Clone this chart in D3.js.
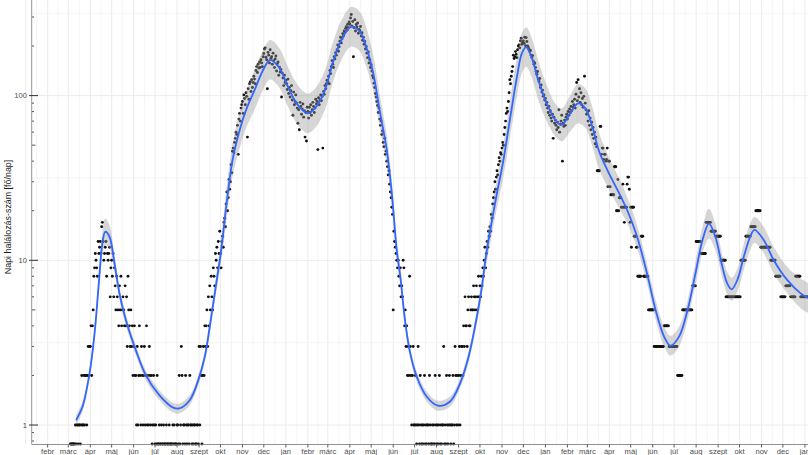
<!DOCTYPE html>
<html>
<head>
<meta charset="utf-8">
<script src="https://cdn.jsdelivr.net/npm/d3@7"></script>
<style>
  html, body { margin: 0; padding: 0; background: #fff; }
  svg { display: block; font-family: "Liberation Sans", Arial, sans-serif; }
</style>
</head>
<body>
<svg id="chart" width="808" height="455"></svg>
<script>
// napi halálozások, havonta egy sor (2020 márc. 4-től)
const deaths2020 = [
  [0,0,0,0,0,0,0,1,0,1,1,0,1,1,0,1,2,1,1,2,1,2,2,1,2,3,2,3],
  [3,4,2,4,5,8,9,11,10,9,8,13,11,12,13,11,16,17,13,10,11,12,13,8,11,10,11,12,6,9],
  [10,8,11,6,9,7,5,8,6,5,4,7,5,8,4,5,6,5,4,7,4,6,3,8,5,4,3,5,3,4,2],
  [3,4,2,2,1,3,1,2,4,2,1,3,2,1,2,3,1,2,4,1,2,1,3,2,1,2,0,1,2,1],
  [0,1,0,2,0,0,1,0,0,1,0,0,1,0,0,0,1,0,0,0,1,0,0,0,0,1,0,1,0,0,0],
  [1,1,0,2,0,1,3,2,0,1,1,0,2,1,0,1,1,0,2,1,1,0,1,0,1,1,0,0,1,1,0],
  [3,1,3,2,0,2,3,2,4,3,4,5,3,6,4,7,5,8,6,5,9,8,7,11,10,12,9,13,11,15],
  [11,9,13,14,12,17,18,16,22,26,20,24,31,27,30,38,34,46,48,45,52,55,60,58,66,44,72,78,70,84,88],
  [92,78,101,96,88,104,99,56,110,95,118,121,106,125,112,120,131,126,118,142,150,138,155,147,160,148,165,158,150,172],
  [180,192,195,171,165,110,183,176,158,190,168,172,155,181,163,148,167,174,141,156,160,133,149,139,144,98,137,128,115,133,120]
];
const deaths2021 = [
  [124,118,109,126,103,112,98,107,115,94,76,105,88,92,101,90,84,68,82,62,91,86,77,83,89,74,81,56,79,53,85],
  [80,73,85,79,88,76,82,91,86,79,84,95,89,92,47,97,88,94,101,93,99,48,106,102,115,110,118,124],
  [122,131,118,142,136,150,163,155,148,172,167,182,176,190,203,186,198,214,226,209,221,238,230,247,241,256,262,249,271,258,280],
  [271,296,311,264,282,172,258,289,247,270,261,276,239,252,248,263,230,241,217,226,205,213,192,199,181,170,184,158,165,148],
  [154,141,132,128,119,112,103,98,92,87,79,84,72,66,70,58,61,52,49,55,44,46,40,37,33,35,29,26,24,21,19],
  [5,15,13,12,11,10,9,10,8,7,9,6,7,6,10,9,4,5,3,4,2,3,2,8,3,2,1,2,3,1],
  [1,2,1,0,1,3,1,0,2,1,0,1,0,1,2,0,1,0,1,1,0,2,1,0,0,1,0,1,0,2,1],
  [0,1,0,1,2,0,1,0,1,1,3,0,1,0,2,1,0,1,2,1,0,1,1,2,0,1,3,2,1,2,1],
  [2,3,1,2,3,3,2,4,3,6,4,4,3,5,6,4,4,5,6,5,5,7,6,5,6,7,5,6,8,6],
  [7,6,8,7,9,8,10,12,9,11,13,12,15,14,16,15,19,18,22,24,26,30,27,32,35,33,38,42,40,45,44],
  [48,52,50,58,64,70,78,84,80,92,104,125,118,131,140,150,176,168,172,185,178,170,190,200,203,195,215,223,205,210],
  [215,208,226,201,225,213,200,197,191,186,188,176,170,175,162,155,158,148,140,135,140,126,122,127,112,116,105,108,99,101,94]
];
const deaths2022 = [
  [96,88,91,84,79,86,76,81,73,70,77,55,74,68,71,66,62,69,64,82,60,67,70,76,40,68,65,71,66,74,77],
  [72,80,76,83,79,86,81,92,85,88,95,84,102,120,93,125,98,110,91,104,88,96,85,99,131,90,82,77],
  [78,70,81,66,73,62,69,58,64,55,60,51,56,49,35,35,35,35,65,65,44,48,48,41,44,44,40,41,48,28,40],
  [40,28,25,25,25,25,25,37,37,37,20,20,31,20,24,24,24,21,21,29,21,17,21,21,21,29,32,32,27,17],
  [21,12,21,21,21,14,14,14,12,12,8,8,8,8,8,14,14,14,8,8,8,8,8,8,8,5,5,5,5,5,5],
  [5,5,3,3,3,3,3,3,3,3,3,3,3,3,3,3,4,4,4,4,4,4,4,3,3,3,3,3,3,3],
  [3,3,3,3,3,2,2,2,2,2,2,2,5,5,5,5,5,5,5,5,5,5,5,5,5,5,7,7,7,7,7],
  [13,13,13,13,13,13,13,11,11,11,11,11,11,11,17,17,17,17,17,17,17,15,15,15,15,15,15,15,14,14,14],
  [14,14,14,14,10,10,10,10,10,10,10,6,6,6,6,6,6,6,6,6,6,6,6,6,6,6,6,6,6,6],
  [6,6,10,10,10,10,10,10,10,14,14,14,14,14,14,14,16,16,16,16,16,16,16,20,20,20,20,20,20,20,12],
  [12,12,12,12,12,12,12,12,12,12,12,12,12,10,10,10,10,10,10,10,8,8,8,8,8,8,8,6,6,6],
  [6,6,6,6,7,7,7,7,7,7,7,6,6,6,6,6,6,6,8,8,8,8,8,8,8,6,6,6,6,6,6]
];
const deaths2023 = [
  [6,6,6,6,6,6,6,6]
];

// simított görbe (loess) és a konfidenciasáv fél-szélessége log10-ben
const smoothDates = [
  "2020-03-12","2020-03-21","2020-03-31","2020-04-07","2020-04-13","2020-04-18","2020-04-22","2020-04-28",
  "2020-05-05","2020-05-12","2020-05-21","2020-06-04","2020-06-18","2020-07-07","2020-07-26","2020-08-04",
  "2020-08-19","2020-08-31","2020-09-09","2020-09-16","2020-09-23","2020-10-02","2020-10-09","2020-10-18",
  "2020-10-28","2020-11-06","2020-11-18","2020-11-30","2020-12-10","2020-12-23","2021-01-04","2021-01-18",
  "2021-02-01","2021-02-13","2021-02-25","2021-03-08","2021-03-20","2021-04-03","2021-04-15","2021-04-24",
  "2021-05-04","2021-05-13","2021-05-23","2021-05-30","2021-06-06","2021-06-11","2021-06-17","2021-06-24",
  "2021-07-04","2021-07-18","2021-08-03","2021-08-20","2021-09-03","2021-09-15","2021-09-24","2021-10-03",
  "2021-10-10","2021-10-24","2021-11-03","2021-11-12","2021-11-22","2021-11-29","2021-12-05","2021-12-13",
  "2021-12-22","2022-01-03","2022-01-15","2022-01-24","2022-02-05","2022-02-16","2022-02-26","2022-03-08",
  "2022-03-17","2022-03-29","2022-04-17","2022-04-26","2022-05-10","2022-05-24","2022-06-05","2022-06-17",
  "2022-06-26","2022-07-08","2022-07-20","2022-07-31","2022-08-10","2022-08-19","2022-08-28","2022-09-07",
  "2022-09-14","2022-09-20","2022-09-28","2022-10-07","2022-10-16","2022-10-22","2022-11-04","2022-11-18",
  "2022-12-07","2022-12-26","2023-01-06"
];
const smoothValues = [
  1.07,1.29,2.07,3.6,7.3,12.7,14.9,13.9,
  9.6,6.3,4.34,2.85,2.01,1.52,1.28,1.26,
  1.42,1.88,2.6,3.95,6.3,11.5,21,40.6,
  61.7,81.7,108,143,165,147,113,87.5,
  78,86,108,158,217,262,245,198,
  136,81,46.6,25.5,11.5,7.95,4.54,2.85,
  1.97,1.49,1.31,1.39,1.79,2.6,3.95,6.6,
  11,24.4,40.6,71,130,181,197,169,
  124,89.6,71,66.4,78,89.6,84,65,
  46.6,35.4,24.4,20.2,13.9,8.3,5.0,3.44,
  3.03,3.44,5.0,8.3,13.3,16.7,13.9,9.1,
  7.2,6.67,7.6,10.5,13.9,15.3,13.3,10.05,
  7.6,6.3,5.9
];
const smoothSpread = [
  0.03,0.03,0.03,0.04,0.05,0.07,0.08,0.07,
  0.05,0.04,0.035,0.03,0.03,0.03,0.03,0.03,
  0.03,0.03,0.035,0.04,0.05,0.07,0.09,0.1,
  0.11,0.11,0.12,0.12,0.12,0.12,0.12,0.12,
  0.12,0.12,0.12,0.12,0.12,0.12,0.12,0.12,
  0.11,0.1,0.09,0.08,0.06,0.05,0.04,0.035,
  0.03,0.03,0.03,0.03,0.03,0.035,0.04,0.05,
  0.07,0.09,0.1,0.11,0.12,0.12,0.12,0.12,
  0.12,0.11,0.1,0.1,0.11,0.12,0.12,0.12,
  0.11,0.1,0.09,0.08,0.07,0.06,0.06,0.06,
  0.06,0.06,0.06,0.07,0.08,0.09,0.08,0.07,
  0.07,0.07,0.07,0.08,0.08,0.08,0.08,0.08,
  0.08,0.09,0.09
];

const monthNames = ["jan","febr","márc","ápr","máj","jún","júl","aug","szept","okt","nov","dec"];
const yLabels = [1, 10, 100];
const yTitle = "Napi halálozás-szám [fő/nap]";

const svg = d3.select("#chart");
const panel = { left: 32, right: 808, top: 0, bottom: 444 };

const x = d3.scaleUtc()
  .domain([new Date(Date.UTC(2020, 0, 10)), new Date(Date.UTC(2023, 0, 5, 8))])
  .range([panel.left, panel.right]);
const y = d3.scaleLog()
  .domain([0.767, 380.6])
  .range([panel.bottom, panel.top]);

function expand(year, firstMonth, firstDay, months) {
  const out = [];
  months.forEach((vals, m) => {
    const d0 = m === 0 ? firstDay : 1;
    vals.forEach((v, i) => {
      out.push({ date: new Date(Date.UTC(year, firstMonth + m, d0 + i)), value: v });
    });
  });
  return out;
}

const points = [
  ...expand(2020, 2, 4, deaths2020),
  ...expand(2021, 0, 1, deaths2021),
  ...expand(2022, 0, 1, deaths2022),
  ...expand(2023, 0, 1, deaths2023)
];

const parse = d3.utcParse("%Y-%m-%d");
const smooth = smoothDates.map((s, i) => ({
  date: parse(s),
  value: smoothValues[i],
  lo: smoothValues[i] / Math.pow(10, smoothSpread[i]),
  hi: smoothValues[i] * Math.pow(10, smoothSpread[i])
}));

svg.append("defs").append("clipPath").attr("id", "clip")
  .append("rect")
  .attr("x", panel.left).attr("y", panel.top)
  .attr("width", panel.right - panel.left).attr("height", panel.bottom - panel.top);

// rács
const grid = svg.append("g");
const months = d3.utcMonth.range(new Date(Date.UTC(2020, 0, 1)), new Date(Date.UTC(2023, 2, 1)));
const midMonths = months.slice(0, -1).map((m, i) => new Date((+m + +months[i + 1]) / 2));

grid.selectAll(".vminor").data(midMonths).enter().append("line")
  .attr("x1", d => x(d)).attr("x2", d => x(d))
  .attr("y1", panel.top).attr("y2", panel.bottom)
  .attr("stroke", "#f1f1f1").attr("stroke-width", 0.8);
grid.selectAll(".vmajor").data(months).enter().append("line")
  .attr("x1", d => x(d)).attr("x2", d => x(d))
  .attr("y1", panel.top).attr("y2", panel.bottom)
  .attr("stroke", "#e9e9e9").attr("stroke-width", 0.9);

const hMinor = [Math.sqrt(10), Math.sqrt(1000), Math.sqrt(100000)];
grid.selectAll(".hminor").data(hMinor).enter().append("line")
  .attr("x1", panel.left).attr("x2", panel.right)
  .attr("y1", d => y(d)).attr("y2", d => y(d))
  .attr("stroke", "#f1f1f1").attr("stroke-width", 0.8);
grid.selectAll(".hmajor").data(yLabels).enter().append("line")
  .attr("x1", panel.left).attr("x2", panel.right)
  .attr("y1", d => y(d)).attr("y2", d => y(d))
  .attr("stroke", "#e9e9e9").attr("stroke-width", 0.9);

// pontok
const [yMin] = y.domain();
svg.append("g").selectAll("circle").data(points).enter().append("circle")
  .attr("cx", d => x(d.date))
  .attr("cy", d => y(d.value > 0 ? d.value : yMin))
  .attr("r", 1.45)
  .attr("fill", "#111");

// simítás
const band = d3.area()
  .x(d => x(d.date))
  .y0(d => y(d.lo))
  .y1(d => y(d.hi))
  .curve(d3.curveCatmullRom.alpha(0.5));
const line = d3.line()
  .x(d => x(d.date))
  .y(d => y(d.value))
  .curve(d3.curveCatmullRom.alpha(0.5));

const smoothG = svg.append("g").attr("clip-path", "url(#clip)");
smoothG.append("path").datum(smooth)
  .attr("d", band)
  .attr("fill", "#999999").attr("fill-opacity", 0.4);
smoothG.append("path").datum(smooth)
  .attr("d", line)
  .attr("fill", "none").attr("stroke", "#3366FF").attr("stroke-width", 1.8);

// tengelyek
const axes = svg.append("g");
axes.append("line")
  .attr("x1", panel.left).attr("x2", panel.right)
  .attr("y1", panel.bottom + 0.5).attr("y2", panel.bottom + 0.5)
  .attr("stroke", "#777").attr("stroke-width", 0.8);
axes.append("line")
  .attr("x1", panel.left - 0.3).attr("x2", panel.left - 0.3)
  .attr("y1", panel.top).attr("y2", panel.bottom + 0.5)
  .attr("stroke", "#777").attr("stroke-width", 0.8);

const monthTicks = months.filter(d => x(d) >= panel.left && x(d) <= panel.right + 10);
axes.selectAll(".xt").data(monthTicks).enter().append("line")
  .attr("x1", d => x(d)).attr("x2", d => x(d))
  .attr("y1", panel.bottom + 0.5).attr("y2", panel.bottom + 3.5)
  .attr("stroke", "#333").attr("stroke-width", 0.8);
axes.selectAll(".xl").data(monthTicks).enter().append("text")
  .attr("x", d => x(d)).attr("y", 453.5)
  .attr("text-anchor", "middle")
  .attr("font-size", 7.6)
  .attr("fill", "#4d4d4d")
  .text(d => monthNames[d.getUTCMonth()]);

// log tickek
const logTicks = [];
for (let k = -1; k <= 2; k++) {
  for (let m = 1; m <= 9; m++) {
    const v = m * Math.pow(10, k);
    if (v >= yMin && v <= y.domain()[1]) logTicks.push({ v, m });
  }
}
axes.selectAll(".yt").data(logTicks).enter().append("line")
  .attr("x1", d => d.m === 1 ? panel.left - 3 : panel.left)
  .attr("x2", d => panel.left + (d.m === 1 ? 6 : d.m === 5 ? 3.5 : 2))
  .attr("y1", d => y(d.v)).attr("y2", d => y(d.v))
  .attr("stroke", "#333").attr("stroke-width", d => d.m === 1 ? 1 : 0.8);
axes.selectAll(".yl").data(yLabels).enter().append("text")
  .attr("x", 27).attr("y", d => y(d) + 2.7)
  .attr("text-anchor", "end")
  .attr("font-size", 7.6)
  .attr("fill", "#4d4d4d")
  .text(d => d);

svg.append("text")
  .attr("transform", "translate(10.5,217) rotate(-90)")
  .attr("text-anchor", "middle")
  .attr("font-size", 8.9)
  .attr("fill", "#1a1a1a")
  .text(yTitle);
</script>
</body>
</html>
